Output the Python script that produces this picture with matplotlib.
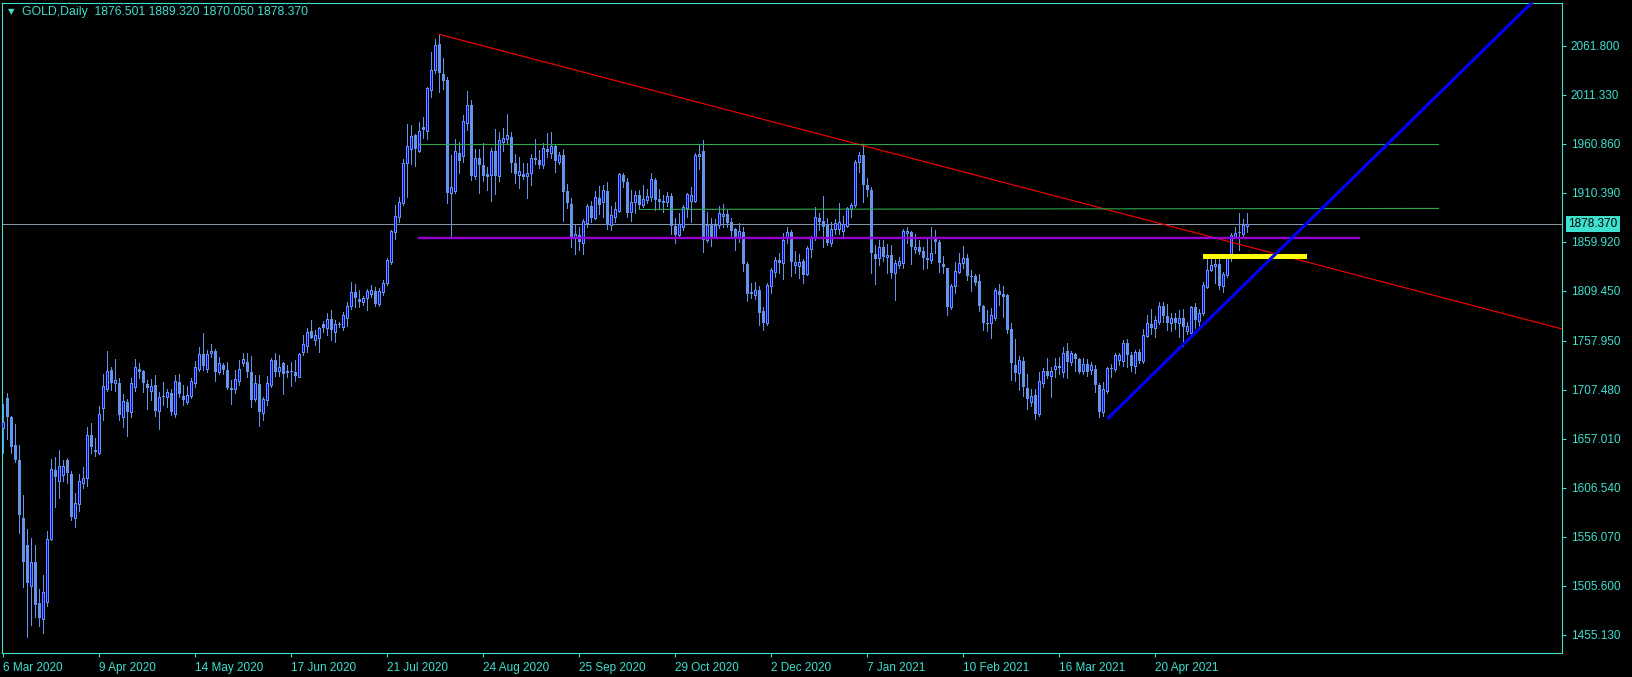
import matplotlib.pyplot as plt
import numpy as np
from matplotlib.patches import Rectangle
import matplotlib.transforms as mtransforms

# GOLD daily bars, 6 Mar 2020 .. 21 May 2021
opens = [1668.0, 1698.7, 1679.8, 1650.6, 1635.2, 1575.8, 1547.7, 1505.4, 1530.5, 1488.3,
         1471.1, 1489.3, 1553.8, 1624.9, 1613.9, 1619.8, 1635.3, 1620.8, 1575.1, 1589.6,
         1611.2, 1616.3, 1661.0, 1645.5, 1642.8, 1688.4, 1708.7, 1727.9, 1714.2, 1714.9,
         1679.2, 1695.3, 1685.0, 1710.7, 1728.9, 1726.9, 1713.5, 1706.6, 1712.5, 1686.0,
         1701.0, 1699.8, 1704.6, 1682.3, 1715.5, 1701.1, 1695.3, 1701.1, 1714.9, 1728.6,
         1744.0, 1729.0, 1745.0, 1747.5, 1726.2, 1733.0, 1728.0, 1709.7, 1708.3, 1717.0,
         1734.8, 1736.1, 1726.2, 1697.7, 1713.5, 1683.3, 1697.0, 1712.5, 1738.2, 1727.2,
         1735.5, 1726.9, 1727.0, 1726.2, 1721.1, 1746.8, 1752.7, 1768.0, 1758.8, 1761.2,
         1775.3, 1770.8, 1780.1, 1767.4, 1775.0, 1772.6, 1781.8, 1794.2, 1808.3, 1800.7,
         1798.3, 1801.7, 1806.2, 1809.6, 1795.9, 1808.6, 1817.2, 1839.5, 1870.4, 1885.9,
         1899.6, 1941.5, 1955.2, 1969.9, 1953.8, 1978.5, 1974.4, 2016.3, 2036.9, 2063.7,
         2032.8, 2026.6, 1910.6, 1912.6, 1951.1, 1948.7, 1982.4, 2000.9, 1927.7, 1945.9,
         1939.1, 1929.4, 1928.7, 1953.5, 1928.0, 1963.1, 1965.5, 1967.6, 1940.8, 1928.7,
         1929.8, 1927.7, 1931.2, 1946.6, 1944.2, 1939.1, 1955.2, 1951.8, 1958.6, 1942.5,
         1949.4, 1912.3, 1898.9, 1863.5, 1866.9, 1859.1, 1879.7, 1896.8, 1884.1, 1905.4,
         1901.3, 1912.3, 1877.3, 1885.9, 1892.0, 1928.7, 1921.9, 1891.0, 1901.3, 1908.2,
         1897.9, 1903.0, 1906.4, 1923.6, 1903.7, 1902.3, 1901.3, 1907.1, 1876.2, 1867.0,
         1875.5, 1894.4, 1902.3, 1902.3, 1948.0, 1953.8, 1861.8, 1877.3, 1864.6, 1877.3,
         1886.2, 1888.6, 1880.0, 1872.8, 1864.6, 1870.4, 1837.1, 1808.6, 1805.2, 1810.3,
         1788.7, 1776.0, 1814.4, 1829.2, 1841.2, 1837.8, 1863.5, 1870.4, 1836.0, 1835.0,
         1840.5, 1826.8, 1852.2, 1863.5, 1884.8, 1881.7, 1877.3, 1859.1, 1872.8, 1872.8,
         1871.4, 1876.2, 1893.4, 1898.0, 1942.0, 1949.0, 1918.0, 1913.0, 1847.4, 1842.9,
         1854.3, 1844.0, 1846.4, 1827.5, 1836.1, 1838.5, 1869.1, 1870.4, 1852.2, 1854.3,
         1850.8, 1842.9, 1841.2, 1862.5, 1860.1, 1837.1, 1832.6, 1793.1, 1814.4, 1829.2,
         1837.8, 1842.9, 1824.7, 1824.7, 1819.6, 1793.8, 1776.0, 1775.9, 1781.8, 1809.3,
         1805.9, 1805.2, 1769.8, 1733.1, 1724.5, 1737.2, 1709.7, 1695.3, 1702.2, 1682.6,
         1714.9, 1726.9, 1721.7, 1728.6, 1731.0, 1726.2, 1747.8, 1735.8, 1744.4, 1738.9,
         1727.2, 1734.1, 1727.9, 1728.6, 1712.5, 1685.0, 1706.6, 1729.6, 1728.6, 1738.2,
         1737.5, 1756.1, 1743.4, 1732.0, 1746.0, 1737.0, 1762.9, 1775.3, 1770.8, 1777.7,
         1793.8, 1783.5, 1776.7, 1781.1, 1775.9, 1781.8, 1768.4, 1766.4, 1793.2, 1778.4,
         1786.3, 1813.7, 1830.9, 1835.0, 1837.1, 1814.4, 1825.8, 1843.9, 1865.2, 1869.4,
         1868.0, 1876.501]
highs = [1693.0, 1704.6, 1680.5, 1672.3, 1650.6, 1599.2, 1564.1, 1555.2, 1547.7, 1502.3,
         1516.8, 1562.1, 1636.2, 1638.0, 1645.5, 1635.3, 1637.0, 1623.9, 1601.6, 1620.8,
         1627.7, 1669.5, 1673.7, 1657.5, 1691.2, 1723.8, 1747.5, 1731.3, 1739.0, 1719.3,
         1703.2, 1698.0, 1719.3, 1739.5, 1735.5, 1727.9, 1717.6, 1718.6, 1722.8, 1705.6,
         1715.2, 1708.0, 1708.7, 1722.8, 1723.8, 1712.5, 1711.4, 1719.3, 1737.5, 1751.9,
         1765.7, 1748.5, 1754.7, 1749.5, 1741.6, 1735.5, 1736.5, 1717.6, 1727.9, 1738.2,
         1745.1, 1745.1, 1742.7, 1722.8, 1722.8, 1700.4, 1721.7, 1739.9, 1745.8, 1743.4,
         1736.0, 1733.0, 1736.5, 1738.2, 1745.8, 1764.0, 1770.8, 1779.4, 1769.1, 1772.6,
         1778.0, 1786.3, 1789.7, 1779.4, 1777.7, 1787.3, 1798.3, 1818.6, 1816.2, 1810.3,
         1804.1, 1811.0, 1815.5, 1813.8, 1812.0, 1820.6, 1842.9, 1872.1, 1897.9, 1906.5,
         1944.9, 1980.9, 1979.9, 1971.0, 1983.7, 1988.8, 2019.7, 2055.8, 2068.8, 2073.6,
         2048.9, 2029.4, 1949.4, 1965.8, 1963.1, 1990.6, 2015.3, 2006.0, 1955.2, 1955.2,
         1961.4, 1937.4, 1956.2, 1976.1, 1973.4, 1976.8, 1991.6, 1972.7, 1950.0, 1947.6,
         1940.8, 1940.8, 1950.4, 1965.8, 1954.5, 1961.4, 1971.7, 1973.4, 1959.7, 1952.8,
         1955.2, 1919.2, 1904.7, 1877.3, 1874.9, 1883.1, 1898.9, 1902.3, 1912.6, 1917.4,
         1918.5, 1921.9, 1896.8, 1901.3, 1930.5, 1931.2, 1925.3, 1913.3, 1912.6, 1913.3,
         1918.5, 1914.0, 1931.2, 1925.3, 1914.0, 1908.2, 1911.6, 1909.9, 1884.1, 1889.3,
         1897.9, 1910.6, 1916.7, 1951.8, 1959.7, 1964.8, 1891.0, 1884.1, 1883.1, 1896.8,
         1898.9, 1892.7, 1884.1, 1873.8, 1879.0, 1875.5, 1839.5, 1817.9, 1818.9, 1814.4,
         1793.2, 1817.2, 1832.6, 1844.6, 1848.1, 1869.4, 1875.5, 1872.1, 1850.8, 1847.4,
         1841.9, 1855.6, 1865.9, 1895.5, 1889.3, 1907.1, 1884.1, 1880.7, 1883.1, 1899.6,
         1886.5, 1896.1, 1899.6, 1944.0, 1952.0, 1959.5, 1926.0, 1916.0, 1856.7, 1861.8,
         1861.8, 1857.7, 1856.7, 1841.2, 1844.6, 1872.8, 1874.8, 1871.0, 1868.0, 1861.8,
         1854.9, 1862.5, 1875.5, 1872.1, 1861.8, 1845.3, 1833.0, 1816.5, 1839.5, 1848.1,
         1855.6, 1847.4, 1830.9, 1826.8, 1826.8, 1794.9, 1789.7, 1791.4, 1812.0, 1816.5,
         1814.4, 1805.8, 1776.0, 1759.5, 1742.3, 1741.6, 1723.8, 1708.0, 1708.0, 1726.2,
         1729.6, 1740.6, 1730.7, 1740.6, 1741.6, 1751.3, 1755.4, 1747.8, 1745.1, 1739.9,
         1739.9, 1738.9, 1736.5, 1733.1, 1714.2, 1715.9, 1731.4, 1734.1, 1745.8, 1745.8,
         1758.8, 1759.5, 1746.0, 1748.0, 1750.0, 1769.8, 1784.6, 1790.4, 1783.5, 1798.3,
         1798.3, 1795.9, 1786.3, 1786.3, 1789.7, 1790.4, 1777.7, 1793.8, 1797.3, 1790.4,
         1818.9, 1842.9, 1845.3, 1842.9, 1844.6, 1829.2, 1846.4, 1868.7, 1875.5, 1890.0,
         1883.1, 1889.32]
lows = [1642.1, 1656.8, 1642.1, 1633.5, 1560.4, 1504.8, 1452.6, 1465.3, 1473.8, 1464.6,
        1457.4, 1485.2, 1552.8, 1587.1, 1596.4, 1613.9, 1611.9, 1573.4, 1566.5, 1583.0,
        1606.0, 1608.4, 1642.8, 1639.7, 1641.4, 1676.4, 1706.6, 1707.3, 1706.6, 1676.4,
        1669.5, 1659.9, 1679.8, 1706.6, 1719.3, 1705.6, 1687.7, 1697.0, 1680.9, 1666.8,
        1691.9, 1690.1, 1681.6, 1679.8, 1699.8, 1691.9, 1693.2, 1698.7, 1710.7, 1726.9,
        1728.0, 1726.2, 1741.6, 1716.9, 1723.4, 1723.8, 1708.3, 1693.2, 1704.6, 1712.5,
        1732.0, 1720.4, 1689.5, 1696.3, 1670.6, 1676.4, 1691.9, 1710.7, 1721.7, 1721.7,
        1703.2, 1720.4, 1711.5, 1716.6, 1720.5, 1743.4, 1746.8, 1760.5, 1753.7, 1746.8,
        1767.0, 1764.0, 1758.8, 1757.1, 1772.6, 1769.1, 1773.2, 1791.1, 1793.2, 1793.2,
        1794.9, 1789.7, 1802.8, 1794.2, 1793.9, 1805.2, 1815.5, 1837.1, 1862.9, 1880.7,
        1897.9, 1906.5, 1940.1, 1938.4, 1952.8, 1966.5, 1965.8, 2008.8, 2033.5, 2014.6,
        2017.3, 1900.3, 1863.5, 1909.9, 1931.2, 1942.5, 1975.1, 1923.6, 1924.3, 1910.6,
        1922.6, 1913.3, 1902.3, 1909.2, 1922.6, 1953.8, 1962.1, 1932.2, 1920.9, 1915.7,
        1924.3, 1905.4, 1918.5, 1940.1, 1935.6, 1936.3, 1947.6, 1946.6, 1932.2, 1940.1,
        1881.7, 1894.4, 1855.0, 1847.4, 1851.5, 1847.4, 1874.9, 1880.7, 1883.1, 1888.6,
        1885.9, 1872.8, 1872.1, 1880.7, 1891.0, 1916.7, 1885.2, 1881.7, 1889.3, 1894.4,
        1896.1, 1900.3, 1902.3, 1892.7, 1893.4, 1891.0, 1896.8, 1868.0, 1859.1, 1864.6,
        1872.1, 1885.2, 1880.7, 1901.3, 1934.6, 1849.8, 1860.1, 1855.6, 1863.5, 1873.8,
        1874.9, 1875.5, 1864.6, 1851.5, 1860.1, 1830.2, 1799.3, 1801.7, 1800.7, 1774.3,
        1769.1, 1774.3, 1806.9, 1824.0, 1827.5, 1821.3, 1858.4, 1824.7, 1827.5, 1822.3,
        1817.9, 1826.0, 1843.9, 1861.8, 1872.1, 1854.3, 1856.7, 1855.6, 1868.0, 1868.0,
        1866.0, 1874.9, 1885.1, 1896.0, 1932.0, 1901.0, 1907.0, 1828.2, 1816.5, 1836.1,
        1840.5, 1827.5, 1822.3, 1800.0, 1832.6, 1832.6, 1858.4, 1837.1, 1848.1, 1847.4,
        1831.6, 1832.6, 1837.8, 1848.1, 1829.2, 1828.2, 1784.6, 1790.4, 1807.6, 1828.2,
        1832.6, 1820.6, 1809.6, 1815.5, 1789.0, 1769.1, 1768.4, 1760.5, 1779.4, 1794.9,
        1782.8, 1765.7, 1717.6, 1716.9, 1707.3, 1701.5, 1687.4, 1690.8, 1677.1, 1680.5,
        1710.1, 1720.0, 1699.8, 1720.4, 1723.8, 1721.0, 1719.3, 1733.1, 1727.2, 1725.2,
        1723.8, 1721.7, 1723.8, 1705.6, 1679.2, 1680.5, 1704.6, 1721.0, 1727.2, 1733.1,
        1732.0, 1731.4, 1727.0, 1725.0, 1735.0, 1735.5, 1762.2, 1765.0, 1762.2, 1775.3,
        1777.7, 1769.1, 1768.4, 1769.8, 1762.2, 1752.6, 1765.0, 1765.0, 1770.8, 1769.8,
        1784.6, 1812.0, 1830.2, 1817.9, 1811.0, 1808.6, 1824.0, 1840.5, 1863.5, 1851.5,
        1863.5, 1870.05]
closes = [1674.0, 1679.8, 1648.9, 1635.2, 1578.6, 1530.5, 1508.9, 1530.5, 1485.9, 1472.8,
          1499.6, 1553.8, 1625.9, 1617.4, 1629.0, 1629.0, 1622.2, 1576.9, 1590.6, 1613.6,
          1617.0, 1661.0, 1648.9, 1643.8, 1682.6, 1711.4, 1726.9, 1714.2, 1717.6, 1681.6,
          1696.0, 1685.0, 1714.5, 1731.0, 1725.5, 1714.2, 1709.0, 1711.8, 1686.0, 1699.8,
          1700.5, 1704.9, 1685.0, 1716.6, 1703.2, 1697.0, 1702.2, 1716.9, 1730.7, 1744.0,
          1732.0, 1744.0, 1747.5, 1726.2, 1734.8, 1728.0, 1709.0, 1707.3, 1718.3, 1728.6,
          1738.9, 1726.2, 1697.0, 1714.2, 1685.0, 1697.7, 1714.2, 1738.2, 1726.2, 1730.7,
          1723.8, 1724.5, 1725.5, 1721.7, 1744.4, 1754.7, 1767.4, 1761.2, 1764.0, 1770.8,
          1771.5, 1780.1, 1769.1, 1775.3, 1775.5, 1784.2, 1794.2, 1808.6, 1802.4, 1798.3,
          1801.7, 1809.6, 1810.3, 1795.9, 1809.3, 1817.2, 1841.2, 1871.1, 1886.9, 1900.6,
          1941.5, 1959.0, 1969.3, 1955.2, 1974.4, 1975.1, 2018.0, 2036.9, 2062.6, 2033.5,
          2025.9, 1910.6, 1916.7, 1953.5, 1943.5, 1984.4, 2000.9, 1927.7, 1945.9, 1939.1,
          1927.7, 1927.0, 1953.5, 1928.0, 1964.8, 1966.5, 1970.0, 1941.5, 1929.4, 1932.9,
          1927.0, 1930.5, 1945.9, 1944.2, 1939.1, 1956.2, 1952.8, 1958.6, 1943.5, 1949.4,
          1911.6, 1899.6, 1863.5, 1868.0, 1860.1, 1881.7, 1896.8, 1884.1, 1905.7, 1897.9,
          1913.3, 1877.3, 1887.6, 1893.7, 1929.8, 1921.9, 1890.0, 1901.3, 1908.2, 1897.9,
          1903.7, 1907.1, 1924.3, 1903.0, 1901.3, 1900.3, 1907.1, 1876.2, 1867.0, 1878.3,
          1895.4, 1909.2, 1908.2, 1949.4, 1950.4, 1861.8, 1877.3, 1865.2, 1877.3, 1889.3,
          1888.6, 1879.0, 1871.4, 1864.6, 1871.1, 1837.1, 1806.2, 1806.2, 1810.3, 1787.0,
          1776.7, 1815.5, 1830.9, 1841.2, 1837.8, 1861.8, 1870.4, 1839.5, 1839.5, 1839.5,
          1825.8, 1853.2, 1864.6, 1885.2, 1880.7, 1875.5, 1858.4, 1872.8, 1879.0, 1880.7,
          1877.9, 1894.4, 1897.9, 1942.0, 1949.0, 1918.0, 1913.0, 1848.8, 1842.2, 1854.3,
          1844.0, 1846.4, 1827.5, 1838.5, 1840.2, 1871.1, 1871.1, 1854.9, 1854.9, 1849.8,
          1842.9, 1841.2, 1848.8, 1860.1, 1837.8, 1833.7, 1793.1, 1814.4, 1830.2, 1837.8,
          1842.9, 1824.7, 1823.4, 1817.2, 1793.8, 1776.0, 1775.3, 1784.6, 1810.3, 1805.2,
          1803.4, 1769.1, 1734.8, 1724.5, 1738.2, 1710.7, 1697.7, 1701.5, 1682.6, 1716.6,
          1726.9, 1721.7, 1727.2, 1732.0, 1731.4, 1745.1, 1735.8, 1745.1, 1738.9, 1726.2,
          1734.1, 1726.2, 1733.1, 1712.5, 1685.0, 1708.0, 1730.3, 1729.0, 1743.4, 1743.4,
          1756.1, 1743.4, 1732.0, 1746.0, 1737.0, 1763.9, 1776.0, 1770.8, 1779.4, 1793.8,
          1783.5, 1776.7, 1781.8, 1776.7, 1781.8, 1771.9, 1773.2, 1792.5, 1779.4, 1787.0,
          1815.5, 1830.9, 1836.1, 1837.1, 1814.4, 1826.8, 1844.0, 1867.0, 1869.4, 1868.7,
          1877.3, 1878.37]

date_labels = ["6 Mar 2020", "9 Apr 2020", "14 May 2020", "17 Jun 2020", "21 Jul 2020",
               "24 Aug 2020", "25 Sep 2020", "29 Oct 2020", "2 Dec 2020", "7 Jan 2021",
               "10 Feb 2021", "16 Mar 2021", "20 Apr 2021"]
price_ticks = [2061.800, 2011.330, 1960.860, 1910.390, 1859.920, 1809.450, 1757.950,
               1707.480, 1657.010, 1606.540, 1556.070, 1505.600, 1455.130]
title = "GOLD,Daily  1876.501 1889.320 1870.050 1878.370"
last_price = 1878.37

# drawn objects (bar index, price)
red_trend = [(109, 2073.6), (215, 1959.0)]
blue_trend = [(276, 1677.4), (316.7, 1841.9)]
green_top = [(104, 1960.3), (358.8, 1960.3)]
green_mid = [(159, 1893.3), (358.8, 1894.3)]
purple_level = [(104, 1863.5), (339, 1863.5)]
yellow_zone = [(299.9, 1842.2), (325.9, 1847.4)]

TURQ = '#3ee0d0'
CORN = '#6495ed'
BLUE = '#0000ff'

W, H = 1633, 677
fig = plt.figure(figsize=(W / 100, H / 100), dpi=100, facecolor='black')
ax = fig.add_axes([2.3 / W, 1 - 653.3 / H, (1562.5 - 2.3) / W, (653.3 - 2.6) / H])
ax.set_facecolor('black')

o = np.array(opens); h = np.array(highs); l = np.array(lows); c = np.array(closes)
x = np.arange(len(c))
up = c > o

ax.vlines(x, l, h, color=CORN, lw=0.72, antialiased=False, zorder=2)
dn = ~up
ax.bar(x[dn], np.maximum(o[dn] - c[dn], 1.0), bottom=c[dn], width=0.72, color=CORN,
       antialiased=False, zorder=3)
ax.bar(x[up], np.maximum(c[up] - o[up], 0.5), bottom=o[up], width=0.48, facecolor=BLUE,
       edgecolor=CORN, linewidth=0.72, antialiased=False, zorder=3)

ax.axhline(last_price, color='#8596a4', lw=0.72, zorder=1)

xmin, xmax = -0.25, 389.8
ymin, ymax = 1436.1, 2106.3

(x0, y0), (x1, y1) = red_trend
s = (y1 - y0) / (x1 - x0)
ax.plot([x0, xmax], [y0, y0 + s * (xmax - x0)], color='#ff0000', lw=0.8, zorder=4)

(x0, y0), (x1, y1) = blue_trend
s = (y1 - y0) / (x1 - x0)
ax.plot([x0, xmax], [y0, y0 + s * (xmax - x0)], color=BLUE, lw=2.2, zorder=5,
        solid_capstyle='butt')

for seg in (green_top, green_mid):
    ax.plot([seg[0][0], seg[1][0]], [seg[0][1], seg[1][1]], color='#2ea84c', lw=0.8, zorder=4)
ax.plot([purple_level[0][0], purple_level[1][0]], [purple_level[0][1], purple_level[1][1]],
        color='#9400d3', lw=1.7, zorder=4)
(ya, yb) = yellow_zone[0][1], yellow_zone[1][1]
ax.add_patch(Rectangle((yellow_zone[0][0], ya), yellow_zone[1][0] - yellow_zone[0][0], yb - ya,
                       facecolor='#ffff00', edgecolor='none', zorder=4))

ax.set_xlim(xmin, xmax)
ax.set_ylim(ymin, ymax)

for sp in ax.spines.values():
    sp.set_color(TURQ)
    sp.set_linewidth(0.8)

ax.yaxis.tick_right()
ax.set_yticks(price_ticks)
ax.set_yticklabels(['%.3f' % v for v in price_ticks])
ax.set_xticks(np.arange(len(date_labels)) * 24)
ax.set_xticklabels(date_labels, ha='left')
ax.tick_params(axis='both', colors=TURQ, length=3, width=0.8, direction='out',
               labelsize=8.5)
ax.tick_params(axis='y', pad=3)
ax.tick_params(axis='x', pad=3)
for t in ax.get_xticklabels() + ax.get_yticklabels():
    t.set_family('Liberation Sans')
    t.set_color(TURQ)

trans = mtransforms.blended_transform_factory(ax.transAxes, ax.transData)
ax.text(1.0035, last_price, '%.3f' % last_price, transform=trans, ha='left', va='center',
        fontsize=8.5, family='Liberation Sans', color='black',
        bbox=dict(boxstyle='square,pad=0.2', facecolor=TURQ, edgecolor='none'))

fig.text(11 / W, 1 - 12 / H, '\u25bc', ha='center', va='center', fontsize=6,
         color=TURQ, family='DejaVu Sans')
fig.text(21.7 / W, 1 - 12 / H, title, ha='left', va='center', fontsize=8.8,
         color=TURQ, family='Liberation Sans')

fig.savefig('out.png', dpi=100, facecolor='black')
